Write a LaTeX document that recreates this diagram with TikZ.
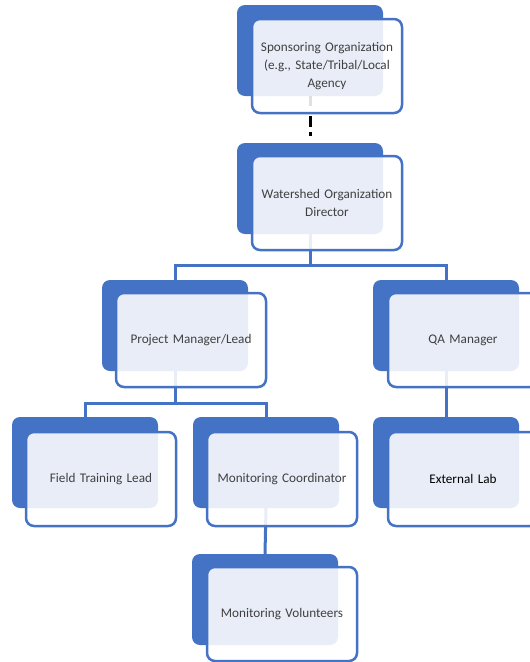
\documentclass[tikz,border=0pt]{standalone}
\usepackage{fontspec}
\setmainfont{Carlito}
\definecolor{blu}{HTML}{4472C4}
\definecolor{txt}{HTML}{404040}
\tikzset{
 backbox/.style={rectangle, rounded corners=8pt, fill=blu, draw=none, minimum width=146pt, minimum height=91pt, inner sep=0pt, outer sep=0pt, anchor=north west},
 frontbox/.style={rectangle, rounded corners=8pt, fill=white, fill opacity=0.88, text opacity=1, draw=blu, draw opacity=1, line width=2.5pt, minimum width=150pt, minimum height=94pt, inner sep=0pt, outer sep=0pt, anchor=north west, align=center, text=txt, font=\fontsize{13.2}{18}\selectfont, text width=148pt},
 conn/.style={draw=blu, line width=3pt},
 dashconn/.style={draw=black, line width=3pt, dash pattern=on 10pt off 10pt on 11pt off 5pt on 4pt off 20pt}
}
\begin{document}
\begin{tikzpicture}[x=1pt,y=-1pt]
\useasboundingbox (0,0) rectangle (530,662);
% back boxes
\node[backbox] (sB) at (237,5) {};
\node[backbox] (wB) at (237,143) {};
\node[backbox] (pB) at (102,280) {};
\node[backbox] (qB) at (373,280) {};
\node[backbox] (fB) at (12,417) {};
\node[backbox] (mB) at (193,417) {};
\node[backbox] (eB) at (373,417) {};
\node[backbox] (vB) at (192,554) {};
% connectors
\draw[dashconn] (sB.south) -- (wB.north);
\draw[conn] (wB.south) -- ++(0,31) coordinate (j1) -| (pB.north);
\draw[conn] (j1) -| (qB.north);
\draw[conn] (pB.south) -- ++(0,32) coordinate (j2) -| (fB.north);
\draw[conn] (j2) -| (mB.north);
\draw[conn] (qB.south) -- (eB.north);
\draw[conn] (mB.south) -- (vB.north);
% front boxes
\node[frontbox] (sF) at (252,19) {Sponsoring Organization\\(e.g., State/Tribal/Local\\Agency};
\node[frontbox] (wF) at (252,156) {Watershed Organization\\Director};
\node[frontbox] (pF) at (116,293) {Project Manager/Lead};
\node[frontbox] (qF) at (388,293) {QA Manager};
\node[frontbox] (fF) at (26,432) {Field Training Lead};
\node[frontbox] (mF) at (207,432) {Monitoring Coordinator};
\node[frontbox, text=black] (eF) at (388,432) {External Lab};
\node[frontbox] (vF) at (207,567) {Monitoring Volunteers};
\end{tikzpicture}
\end{document}
